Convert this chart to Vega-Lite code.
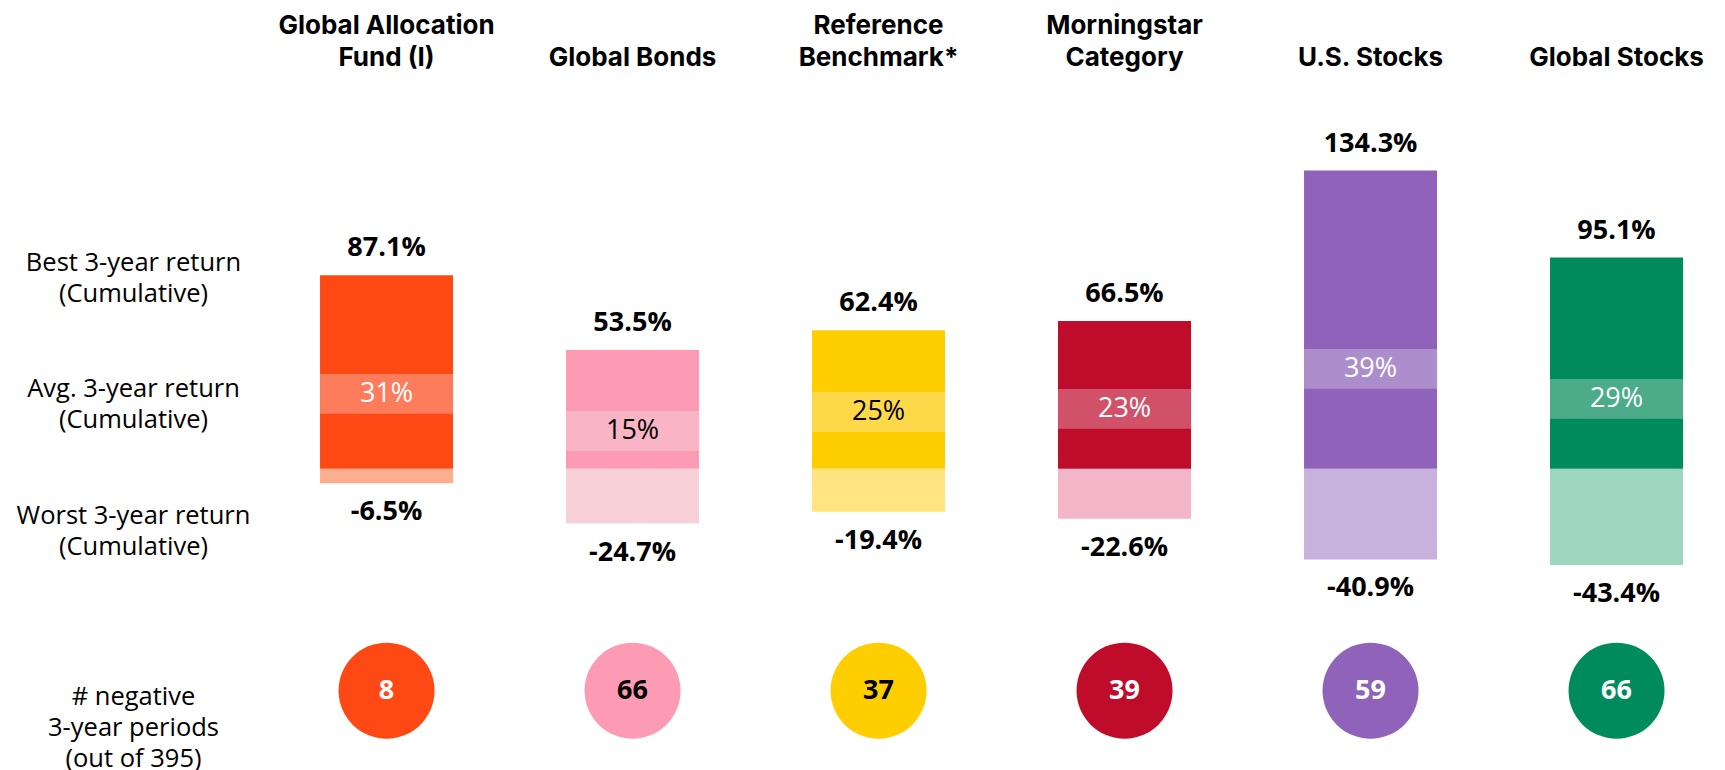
{
  "$schema": "https://vega.github.io/schema/vega-lite/v6.json",
  "width": 1707,
  "height": 690,
  "autosize": {"type": "none"},
  "padding": {"left": 18, "top": 80, "right": 0, "bottom": 0},
  "background": "white",
  "config": {
    "font": "Inter",
    "view": {"stroke": null},
    "locale": {"number": {"decimal": ".", "thousands": ",", "grouping": [3], "currency": ["$", ""], "minus": "-"}}
  },
  "data": {
    "values": [
      {"fund": "Global Allocation Fund (I)", "best": 0.871, "worst": -0.065, "avg": 0.31, "avg_lo": 0.248, "avg_hi": 0.427, "avg_mid": 0.337, "neg": 8},
      {"fund": "Global Bonds", "best": 0.535, "worst": -0.247, "avg": 0.15, "avg_lo": 0.080, "avg_hi": 0.260, "avg_mid": 0.170, "neg": 66},
      {"fund": "Reference Benchmark*", "best": 0.624, "worst": -0.194, "avg": 0.25, "avg_lo": 0.165, "avg_hi": 0.346, "avg_mid": 0.255, "neg": 37},
      {"fund": "Morningstar Category", "best": 0.665, "worst": -0.226, "avg": 0.23, "avg_lo": 0.180, "avg_hi": 0.359, "avg_mid": 0.270, "neg": 39},
      {"fund": "U.S. Stocks", "best": 1.343, "worst": -0.409, "avg": 0.39, "avg_lo": 0.360, "avg_hi": 0.539, "avg_mid": 0.450, "neg": 59},
      {"fund": "Global Stocks", "best": 0.951, "worst": -0.434, "avg": 0.29, "avg_lo": 0.225, "avg_hi": 0.404, "avg_mid": 0.315, "neg": 66}
    ]
  },
  "encoding": {
    "x": {
      "field": "fund",
      "type": "nominal",
      "sort": null,
      "scale": {"paddingInner": 0.4593, "paddingOuter": 0.6992, "align": 0.878},
      "axis": {
        "orient": "top",
        "title": null,
        "domain": false,
        "ticks": false,
        "labelAngle": 0,
        "labelFont": "Inter",
        "labelFontSize": 26,
        "labelFontWeight": "bold",
        "labelColor": "#000000",
        "labelBaseline": "middle",
        "labelPadding": 55,
        "labelLineHeight": 32,
        "labelLimit": 500,
        "labelExpr": "datum.label == 'Global Allocation Fund (I)' ? ['Global Allocation', 'Fund (I)'] : datum.label == 'Reference Benchmark*' ? ['Reference', 'Benchmark*'] : datum.label == 'Morningstar Category' ? ['Morningstar', 'Category'] : ['', datum.label]"
      }
    }
  },
  "layer": [
    {
      "mark": {"type": "bar"},
      "encoding": {
        "y": {
          "field": "worst",
          "type": "quantitative",
          "scale": {"domain": [-1.3572, 1.7509], "nice": false, "zero": false},
          "axis": {
            "orient": "left",
            "title": null,
            "domain": false,
            "ticks": false,
            "grid": false,
            "values": [0.928, 0.3635, -0.2086, -1.0239],
            "offset": -115,
            "labelPadding": 0,
            "labelAlign": "center",
            "labelBaseline": "middle",
            "labelFont": "Open Sans",
            "labelFontSize": 25.5,
            "labelColor": "#000000",
            "labelLineHeight": 31,
            "labelOverlap": false,
            "labelFlush": false,
            "labelBound": false,
            "labelLimit": 500,
            "labelExpr": "datum.value > 0.5 ? ['Best 3-year return', '(Cumulative)'] : datum.value > 0 ? ['Avg. 3-year return', '(Cumulative)'] : datum.value > -0.5 ? ['Worst 3-year return', '(Cumulative)'] : ['# negative', '3-year periods', '(out of 395)']"
          }
        },
        "y2": {"datum": 0},
        "color": {
          "field": "fund",
          "type": "nominal",
          "legend": null,
          "scale": {
            "domain": ["Global Allocation Fund (I)", "Global Bonds", "Reference Benchmark*", "Morningstar Category", "U.S. Stocks", "Global Stocks"],
            "range": ["#FDAE8F", "#F8D1D8", "#FFE47F", "#F2B6C8", "#C6B2DC", "#9DD6BF"]
          }
        }
      }
    },
    {
      "mark": {"type": "bar"},
      "encoding": {
        "y": {"field": "best", "type": "quantitative"},
        "y2": {"datum": 0},
        "color": {
          "field": "fund",
          "type": "nominal",
          "legend": null,
          "scale": {
            "domain": ["Global Allocation Fund (I)", "Global Bonds", "Reference Benchmark*", "Morningstar Category", "U.S. Stocks", "Global Stocks"],
            "range": ["#FF4914", "#FC9BB3", "#FFCE00", "#BE0C2A", "#9063BA", "#008B5C"]
          }
        }
      }
    },
    {
      "mark": {"type": "bar"},
      "encoding": {
        "y": {"field": "avg_hi", "type": "quantitative"},
        "y2": {"field": "avg_lo"},
        "color": {
          "field": "fund",
          "type": "nominal",
          "legend": null,
          "scale": {
            "domain": ["Global Allocation Fund (I)", "Global Bonds", "Reference Benchmark*", "Morningstar Category", "U.S. Stocks", "Global Stocks"],
            "range": ["#FD7C5B", "#F9B4C6", "#FDD94A", "#D05168", "#AD8ECC", "#4CAC8A"]
          }
        }
      }
    },
    {
      "mark": {"type": "rule", "color": "#888888", "strokeWidth": 4},
      "encoding": {"y": {"datum": 0}}
    },
    {
      "mark": {"type": "text", "font": "Open Sans", "fontSize": 27, "fontWeight": "bold", "dy": -27, "baseline": "middle", "color": "#000000"},
      "encoding": {
        "y": {"field": "best", "type": "quantitative"},
        "text": {"field": "best", "type": "quantitative", "format": ".1%"}
      }
    },
    {
      "mark": {"type": "text", "font": "Open Sans", "fontSize": 27, "fontWeight": "bold", "dy": 29, "baseline": "middle", "color": "#000000"},
      "encoding": {
        "y": {"field": "worst", "type": "quantitative"},
        "text": {"field": "worst", "type": "quantitative", "format": ".1%"}
      }
    },
    {
      "mark": {"type": "text", "font": "Open Sans", "fontSize": 27, "baseline": "middle"},
      "encoding": {
        "y": {"field": "avg_mid", "type": "quantitative"},
        "text": {"field": "avg", "type": "quantitative", "format": ".0%"},
        "color": {
          "condition": {"test": "datum.fund == 'Global Bonds' || datum.fund == 'Reference Benchmark*'", "value": "#000000"},
          "value": "#FFFFFF"
        }
      }
    },
    {
      "mark": {"type": "point", "filled": true, "shape": "circle", "opacity": 1, "size": 9216},
      "encoding": {
        "y": {"datum": -1.0},
        "color": {
          "field": "fund",
          "type": "nominal",
          "legend": null,
          "scale": {
            "domain": ["Global Allocation Fund (I)", "Global Bonds", "Reference Benchmark*", "Morningstar Category", "U.S. Stocks", "Global Stocks"],
            "range": ["#FF4914", "#FC9BB3", "#FFCE00", "#BE0C2A", "#9063BA", "#008B5C"]
          }
        }
      }
    },
    {
      "mark": {"type": "text", "font": "Open Sans", "fontSize": 27, "fontWeight": "bold", "baseline": "middle"},
      "encoding": {
        "y": {"datum": -1.0},
        "text": {"field": "neg", "type": "quantitative"},
        "color": {
          "condition": {"test": "datum.fund == 'Global Bonds' || datum.fund == 'Reference Benchmark*'", "value": "#000000"},
          "value": "#FFFFFF"
        }
      }
    }
  ],
  "resolve": {"scale": {"color": "independent"}}
}
